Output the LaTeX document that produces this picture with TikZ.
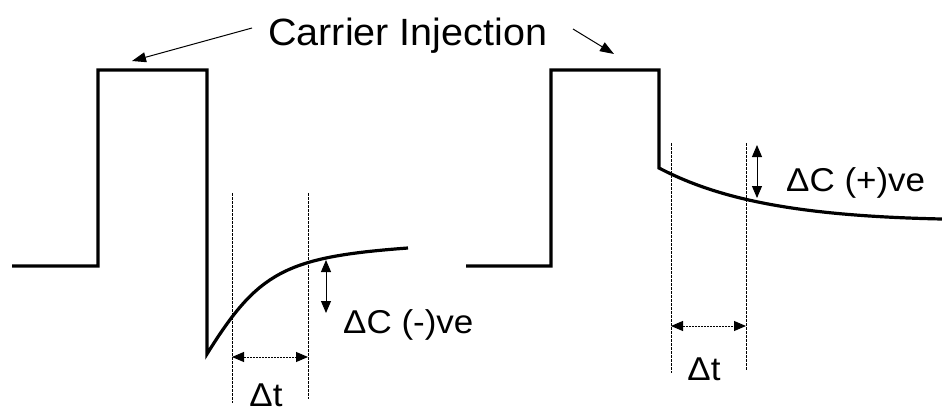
\documentclass[tikz,border=0pt]{standalone}
\usepackage{fontspec}
\setmainfont{Liberation Sans}
\usepackage{graphicx}
\usetikzlibrary{arrows.meta}
\begin{document}
\begin{tikzpicture}[x=1pt,y=-1pt,
  wave/.style={line width=3.2pt, line join=miter, miter limit=20},
  guide/.style={line width=0.6pt, dash pattern=on 2.5pt off 1.5pt},
  dimarrow/.style={line width=0.9pt, {Triangle[length=12pt,width=10pt]}-{Triangle[length=12pt,width=10pt]}},
  dimdot/.style={dimarrow, dash pattern=on 2pt off 1pt},
  ptr/.style={line width=1pt, -{Triangle[length=14pt,width=10pt]}},
  lbl/.style={inner sep=0pt, font=\fontsize{33}{36}\selectfont},
  title/.style={inner sep=0pt, font=\fontsize{38}{42}\selectfont}]
\useasboundingbox (0,0) rectangle (942,413);

% left waveform
\coordinate (l0) at (12,266);
\coordinate (l1) at (98,266);
\coordinate (l2) at (98,70);
\coordinate (l3) at (207,70);
\coordinate (l4) at (207,354);
\coordinate (l5) at (408,248);
\draw[wave] (l0) -- (l1) -- (l2) -- (l3) -- (l4) .. controls (258,272) and (285,257) .. (l5);

% right waveform
\coordinate (r0) at (466,266);
\coordinate (r1) at (551,266);
\coordinate (r2) at (551,70);
\coordinate (r3) at (659,70);
\coordinate (r4) at (659,168);
\coordinate (r5) at (942,219);
\draw[wave] (r0) -- (r1) -- (r2) -- (r3) -- (r4) .. controls (720,200) and (800,216) .. (r5);

% left guides
\coordinate (lg1t) at (232,193); \coordinate (lg1b) at (232,403);
\coordinate (lg2t) at (308,193); \coordinate (lg2b) at (308,399);
\draw[guide] (lg1t) -- (lg1b);
\draw[guide] (lg2t) -- (lg2b);
\coordinate (lta) at (232,357); \coordinate (ltb) at (308,357);
\draw[dimdot] (lta) -- (ltb);
\coordinate (lca) at (326,260); \coordinate (lcb) at (326,313);
\draw[dimarrow] (lca) -- (lcb);

% right guides
\coordinate (rg1t) at (671,143); \coordinate (rg1b) at (671,373);
\coordinate (rg2t) at (746,143); \coordinate (rg2b) at (746,370);
\draw[guide] (rg1t) -- (rg1b);
\draw[guide] (rg2t) -- (rg2b);
\coordinate (rta) at (671,326); \coordinate (rtb) at (746,326);
\draw[dimdot] (rta) -- (rtb);
\coordinate (rca) at (757,145); \coordinate (rcb) at (757,198);
\draw[dimarrow] (rca) -- (rcb);

% labels
\node[title, anchor=base west] (ci) at (268,45) {\scalebox{1.04}[1]{Carrier Injection}};
\node[lbl, anchor=base west] (dcm) at (343,333) {\scalebox{1.06}[1]{ΔC (-)ve}};
\node[lbl, anchor=base west] (dcp) at (786,191) {\scalebox{1.06}[1]{ΔC (+)ve}};
\node[lbl, anchor=base] (dtl) at (266,406) {\scalebox{1.06}[1]{Δt}};
\node[lbl, anchor=base] (dtr) at (704,380) {\scalebox{1.06}[1]{Δt}};

% carrier injection pointers
\coordinate (p1s) at (252,28); \coordinate (p1e) at (132,61);
\coordinate (p2s) at (573,29); \coordinate (p2e) at (614,54);
\draw[ptr] (p1s) -- (p1e);
\draw[ptr] (p2s) -- (p2e);
\end{tikzpicture}
\end{document}
